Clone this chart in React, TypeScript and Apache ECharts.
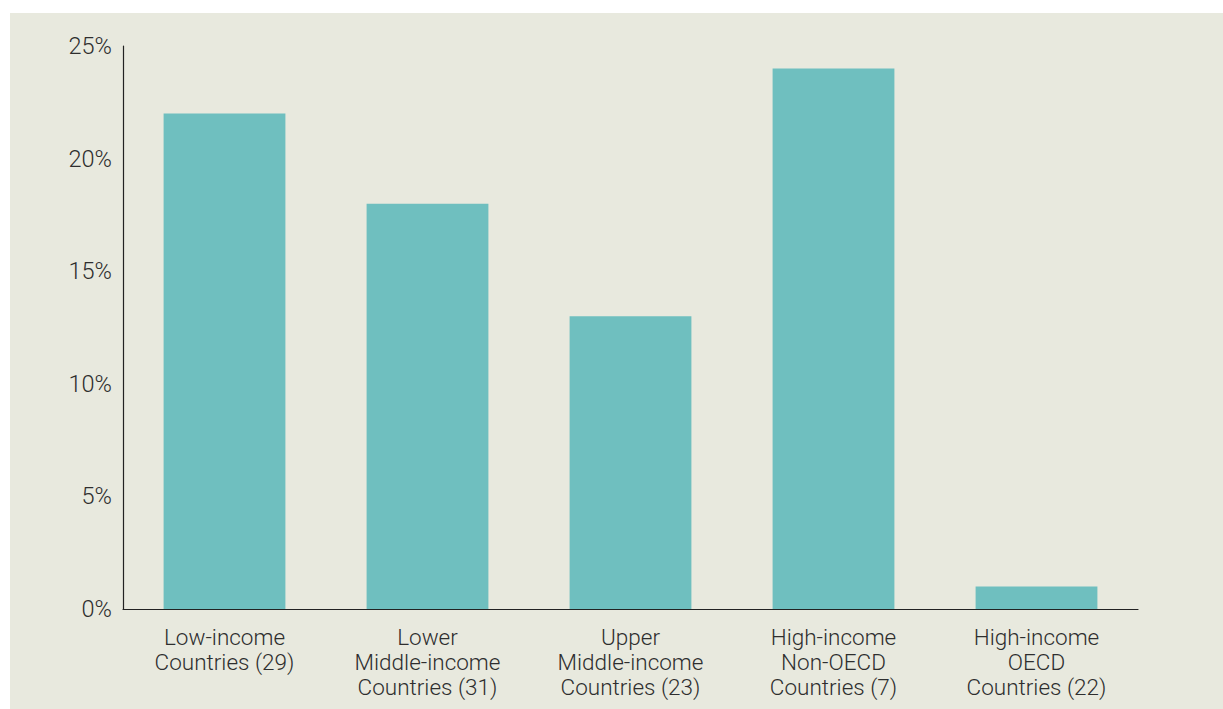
import React, { useEffect, useRef } from "react";
import * as echarts from "echarts";

// Income groups (with the number of countries in each) and their shares in percent
const categories: string[] = [
  "Low-income\nCountries (29)",
  "Lower\nMiddle-income\nCountries (31)",
  "Upper\nMiddle-income\nCountries (23)",
  "High-income\nNon-OECD\nCountries (7)",
  "High-income\nOECD\nCountries (22)",
];
const shares: number[] = [22, 18, 13, 24, 1];

const FONT = "Roboto, 'Liberation Sans', Arial, sans-serif";
const TEXT = "#2e2e2e";

export default function App() {
  const ref = useRef<HTMLDivElement>(null);

  useEffect(() => {
    if (!ref.current) return;
    const chart = echarts.init(ref.current, null, { renderer: "svg" });
    chart.setOption({
      animation: false,
      backgroundColor: "#e8e9de",
      grid: { left: 113, right: 85, top: 33, bottom: 100, containLabel: false },
      xAxis: {
        type: "category",
        data: categories,
        axisLine: { show: true, lineStyle: { color: "#222", width: 1.2 } },
        axisTick: { show: false },
        axisLabel: {
          color: TEXT,
          fontFamily: FONT,
          fontWeight: 300,
          fontSize: 22.5,
          lineHeight: 25,
          margin: 15,
          interval: 0,
        },
      },
      yAxis: {
        type: "value",
        min: 0,
        max: 25,
        interval: 5,
        axisLine: { show: true, lineStyle: { color: "#222", width: 1.2 } },
        axisTick: { show: false },
        splitLine: { show: false },
        axisLabel: {
          color: TEXT,
          fontFamily: FONT,
          fontWeight: 300,
          fontSize: 23.5,
          margin: 11,
          formatter: "{value}%",
        },
      },
      series: [
        {
          type: "bar",
          data: shares,
          barWidth: "60%",
          itemStyle: { color: "#6fbfbf" },
        },
      ],
    });
    return () => chart.dispose();
  }, []);

  return (
    <div
      ref={ref}
      style={{ position: "absolute", left: 10, top: 13, width: 1213, height: 696 }}
    />
  );
}
